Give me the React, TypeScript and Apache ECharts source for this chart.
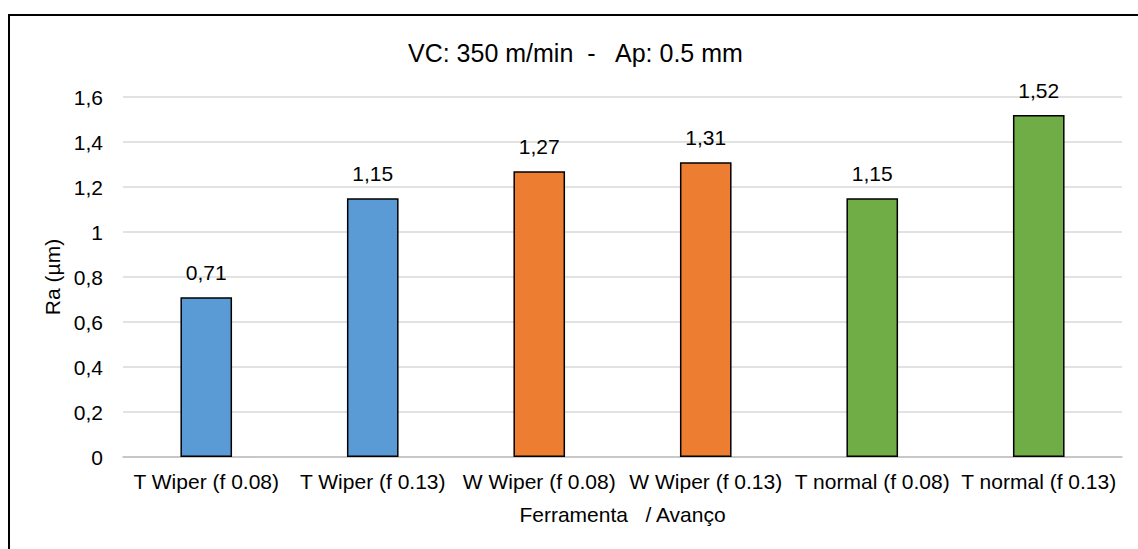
import React, { useEffect, useRef } from "react";
import * as echarts from "echarts";

const categories = [
  "T Wiper (f 0.08)",
  "T Wiper (f 0.13)",
  "W Wiper (f 0.08)",
  "W Wiper (f 0.13)",
  "T normal (f 0.08)",
  "T normal (f 0.13)",
];
const values = [0.71, 1.15, 1.27, 1.31, 1.15, 1.52];
const barColors = ["#5B9BD5", "#5B9BD5", "#ED7D31", "#ED7D31", "#70AD47", "#70AD47"];
const titleText = "VC: 350 m/min  -   Ap: 0.5 mm";
const xName = "Ferramenta   / Avanço";
const yName = "Ra (µm)";

export default function App() {
  const ref = useRef<HTMLDivElement>(null);
  useEffect(() => {
    const chart = echarts.init(ref.current!, undefined, { renderer: "svg" });
    const font = "Liberation Sans, Arial, sans-serif";
    chart.setOption({
      animation: false,
      textStyle: { fontFamily: font },
      title: {
        text: titleText,
        left: 403,
        top: 35,
        textStyle: { fontSize: 25, fontWeight: "normal", color: "#000", fontFamily: font },
      },
      graphic: [
        {
          type: "rect",
          shape: { x: 9, y: 15, width: 1200, height: 600 },
          style: { fill: "none", stroke: "#000", lineWidth: 2 },
        },
      ],
      grid: { left: 123, right: 16, top: 97, bottom: 92 },
      xAxis: {
        type: "category",
        data: categories,
        axisLine: { lineStyle: { color: "#BFBFBF", width: 1.5 } },
        axisTick: { show: false },
        axisLabel: {
          color: "#000",
          fontSize: 21,
          margin: 14,
          fontFamily: font,
          interval: 0,
          hideOverlap: false,
        },
        name: xName,
        nameLocation: "middle",
        nameGap: 47,
        nameTextStyle: { color: "#000", fontSize: 21, fontFamily: font },
      },
      yAxis: {
        type: "value",
        min: 0,
        max: 1.6,
        interval: 0.2,
        axisLine: { show: false },
        axisTick: { show: false },
        splitLine: { lineStyle: { color: "#D9D9D9", width: 1.5 } },
        axisLabel: {
          color: "#000",
          fontSize: 21,
          margin: 20,
          fontFamily: font,
          formatter: (v: number) => String(Math.round(v * 10) / 10).replace(".", ","),
        },
        name: yName,
        nameLocation: "middle",
        nameGap: 57,
        nameTextStyle: { color: "#000", fontSize: 21, fontFamily: font },
      },
      series: [
        {
          type: "bar",
          data: values.map((v, i) => ({
            value: v,
            itemStyle: { color: barColors[i], borderColor: "#000", borderWidth: 1.5 },
          })),
          barWidth: "31%",
          label: {
            show: true,
            position: "top",
            distance: 14,
            color: "#000",
            fontSize: 21,
            fontFamily: font,
            formatter: (p: any) => p.value.toFixed(2).replace(".", ","),
          },
        },
      ],
    });
    return () => chart.dispose();
  }, []);
  return (
    <div
      ref={ref}
      style={{ position: "absolute", left: 0, top: 0, width: 1138, height: 549, background: "#fff" }}
    />
  );
}
